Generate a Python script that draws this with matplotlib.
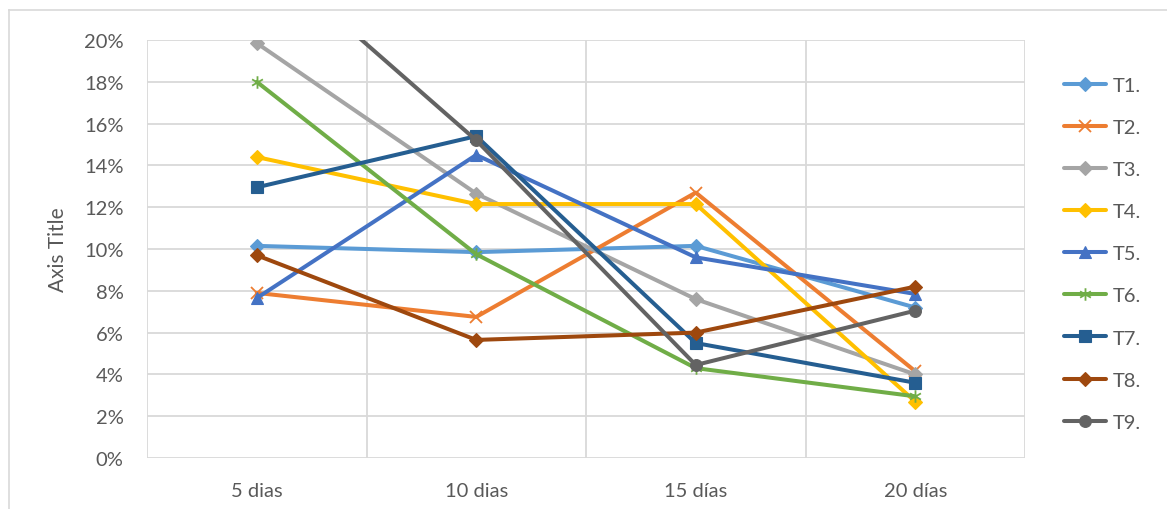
import matplotlib
matplotlib.use("Agg")
import matplotlib.pyplot as plt
from matplotlib.path import Path
from matplotlib.lines import Line2D
import numpy as np

plt.rcParams['font.family'] = ['Lato', 'DejaVu Sans']

categories = ["5 dias", "10 dias", "15 días", "20 días"]
series_names = ["T1.", "T2.", "T3.", "T4.", "T5.", "T6.", "T7.", "T8.", "T9."]

t1 = [10.15, 9.85, 10.15, 7.2]
t2 = [7.9, 6.75, 12.7, 4.15]
t3 = [19.85, 12.65, 7.6, 4.0]
t4 = [14.4, 12.15, 12.15, 2.7]
t5 = [7.65, 14.5, 9.6, 7.85]
t6 = [18.0, 9.75, 4.3, 2.95]
t7 = [12.95, 15.4, 5.5, 3.6]
t8 = [9.7, 5.65, 6.0, 8.2]
t9 = [24.4, 15.2, 4.45, 7.05]
series_values = [t1, t2, t3, t4, t5, t6, t7, t8, t9]

y_ticks = [0, 2, 4, 6, 8, 10, 12, 14, 16, 18, 20]

colors = ["#5B9BD5", "#ED7D31", "#A5A5A5", "#FFC000", "#4472C4",
          "#70AD47", "#255E91", "#9E480E", "#636363"]

# six-armed asterisk drawn as open strokes
ang = np.deg2rad([90, 30, 150])
verts, codes = [], []
for a in ang:
    verts += [(np.cos(a), np.sin(a)), (-np.cos(a), -np.sin(a))]
    codes += [Path.MOVETO, Path.LINETO]
star = Path(verts, codes)

markers = ["D", "x", "D", "D", "^", star, "s", "D", "o"]
msizes = [7.5, 8.5, 7.5, 7.5, 8.5, 9, 8, 7.5, 8.5]

text_color = "#595959"
grid_color = "#D9D9D9"

fig = plt.figure(figsize=(11.67, 5.10), dpi=100)
ax = fig.add_axes([147 / 1167, 1 - 459 / 510, (1025 - 147) / 1167, (459 - 41) / 510])

x = np.arange(len(categories))
handles = []
for name, vals, c, m, ms in zip(series_names, series_values, colors, markers, msizes):
    open_marker = m in ("x",) or m is star
    ln, = ax.plot(x, vals, color=c, lw=2.9, marker=m, markersize=ms,
                  markerfacecolor='none' if open_marker else c,
                  markeredgecolor=c, markeredgewidth=1.3 if open_marker else 0.8,
                  label=name, solid_capstyle='round', solid_joinstyle='round',
                  clip_on=True)
    handles.append(ln)

ax.set_xlim(-0.5, len(categories) - 0.5)
ax.set_ylim(0, 20)
ax.set_yticks(y_ticks)
ax.set_yticklabels([f"{v}%" for v in y_ticks])
ax.set_xticks(x)
ax.set_xticklabels(categories)
ax.set_xticks(np.arange(-0.5, len(categories), 1.0), minor=True)

ax.grid(True, which='major', axis='y', color=grid_color, lw=1.3)
ax.grid(True, which='minor', axis='x', color=grid_color, lw=1.3)
ax.set_axisbelow(True)
for s in ax.spines.values():
    s.set_visible(False)
ax.tick_params(axis='both', which='both', length=0, colors=text_color, labelsize=14.5)
ax.tick_params(axis='y', pad=17)
ax.tick_params(axis='x', pad=17)

ax.set_ylabel("Axis Title", color=text_color, fontsize=15, labelpad=11)

leg = ax.legend(handles=handles, loc='upper left',
                bbox_to_anchor=(1064 / 1167, 1 - 78 / 510), bbox_transform=fig.transFigure,
                frameon=False, fontsize=14.5, labelcolor=text_color,
                handlelength=2.1, handletextpad=0.3, labelspacing=1.24,
                borderaxespad=0, borderpad=0)

# chart frame
fig.add_artist(Line2D([9 / 1167, 9 / 1167], [0, 1 - 11 / 510],
                      transform=fig.transFigure, color=grid_color, lw=1.2))
fig.add_artist(Line2D([9 / 1167, 1], [1 - 11 / 510, 1 - 11 / 510],
                      transform=fig.transFigure, color=grid_color, lw=1.2))

fig.savefig("out.png", dpi=100, facecolor="white")
